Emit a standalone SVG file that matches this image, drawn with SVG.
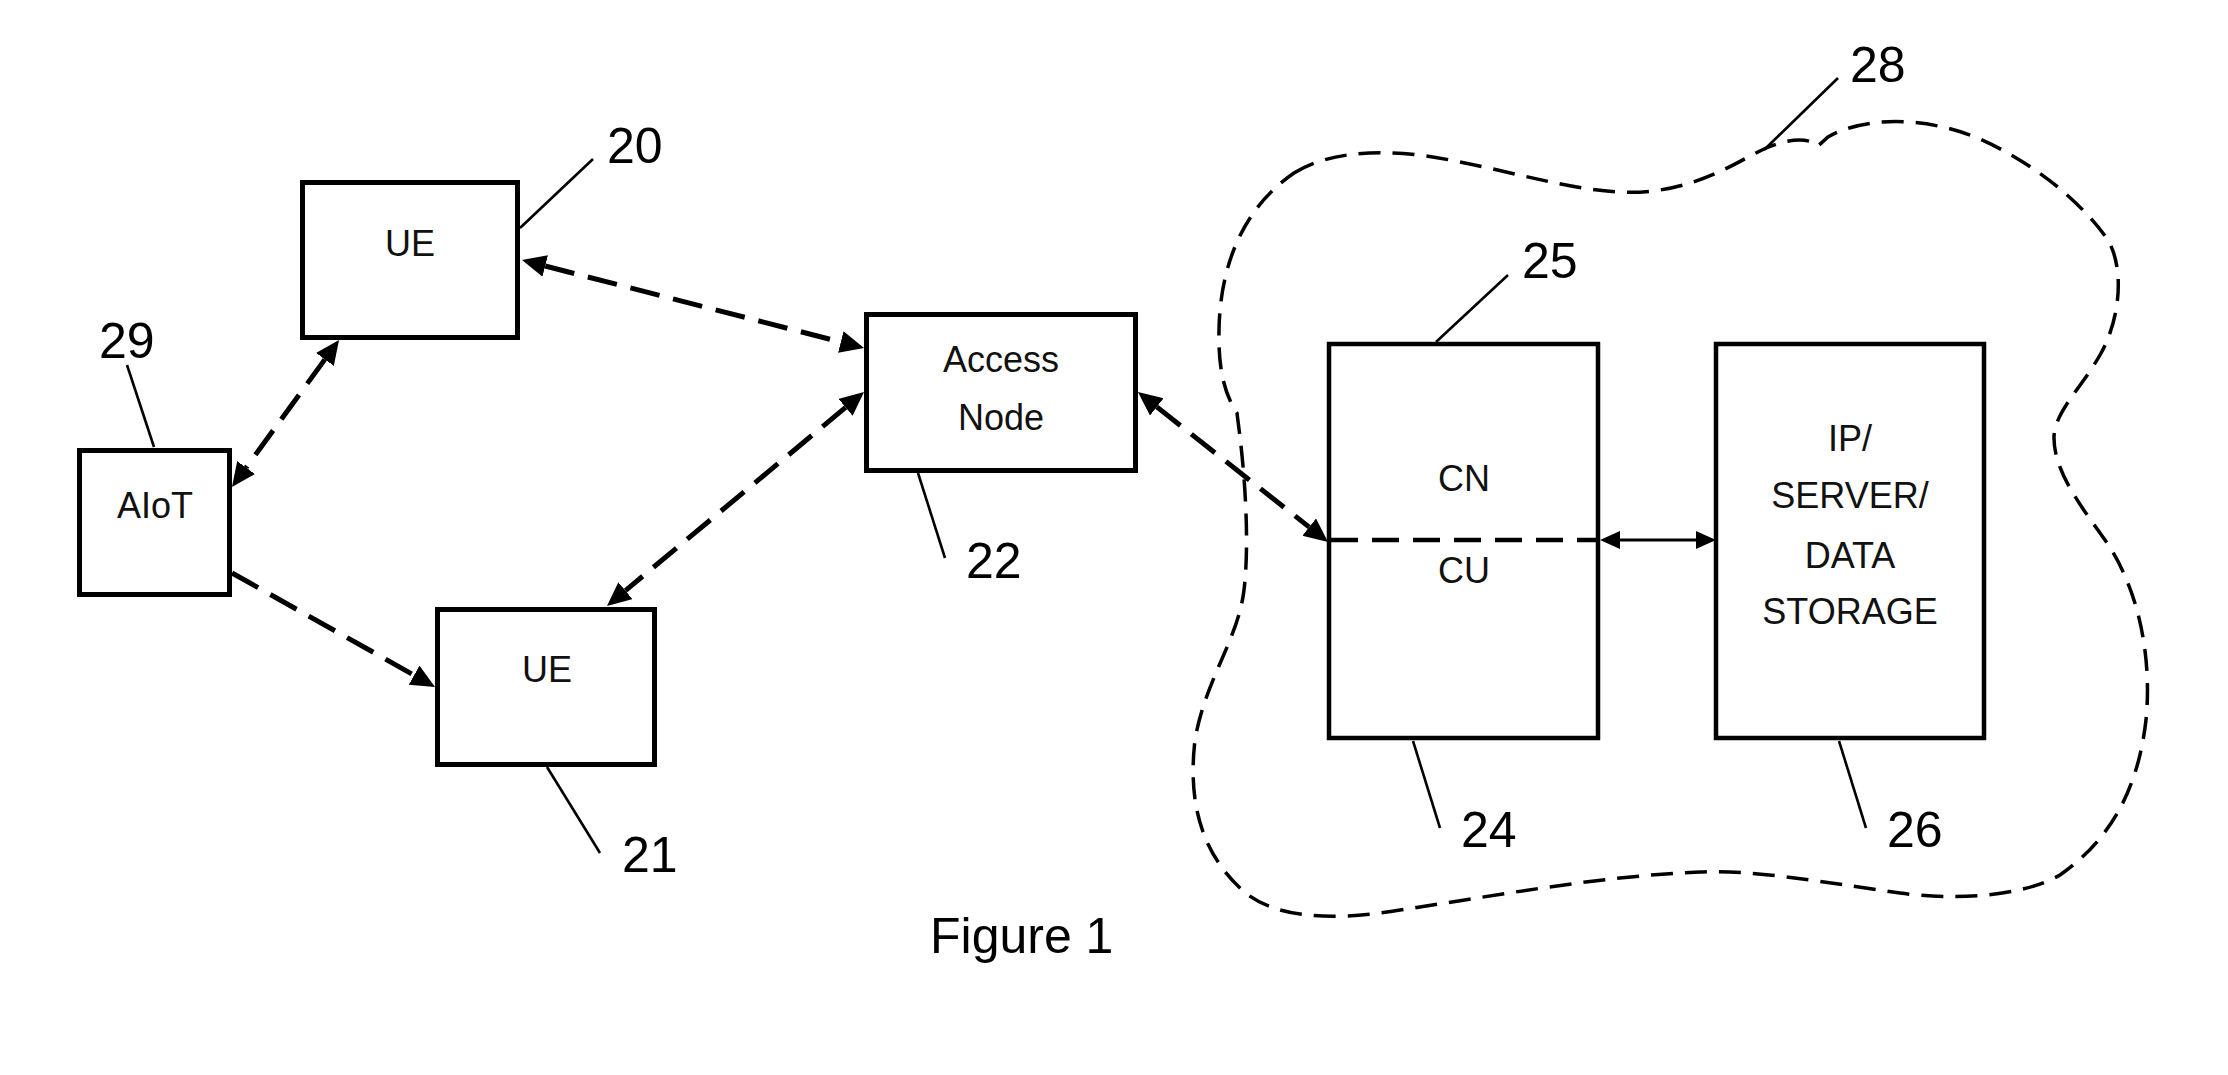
<svg xmlns="http://www.w3.org/2000/svg" width="2228" height="1075" viewBox="0 0 2228 1075">
<style>
.box{fill:#fff;stroke:#000;stroke-width:5}
.box2{fill:#fff;stroke:#000;stroke-width:4.5}
.lbl{font-family:"Liberation Sans",Arial,sans-serif;font-size:36px;fill:#111;text-anchor:middle}
.num{font-family:"Liberation Sans",Arial,sans-serif;font-size:50px;fill:#000}
.lead{stroke:#000;stroke-width:2.6;fill:none}
.conn{stroke:#000;stroke-width:5;fill:none;stroke-dasharray:30 14}
.cloud{stroke:#000;stroke-width:3.5;fill:none;stroke-dasharray:22 12}
</style>
<defs>
<marker id="ah" markerUnits="userSpaceOnUse" markerWidth="26" markerHeight="24" refX="0" refY="11" orient="auto-start-reverse">
<path d="M0,0 L24,11 L0,22 z" fill="#000"/>
</marker>
<marker id="ahs" markerUnits="userSpaceOnUse" markerWidth="22" markerHeight="20" refX="0" refY="9" orient="auto-start-reverse">
<path d="M0,0 L20,9 L0,18 z" fill="#000"/>
</marker>
</defs>
<rect width="2228" height="1075" fill="#fff"/>

<g id="cloud28">
<path class="cloud" d="M1294,173 C1330,150 1390,148 1450,160 C1530,175 1600,200 1660,190 C1710,182 1740,160 1764,149 C1785,140 1800,138 1812,142 L1818,146 L1828,137 C1860,118 1920,115 1975,137 C2030,160 2080,200 2108,240 C2125,270 2120,320 2100,355 C2080,390 2056,410 2054,436 C2053,470 2080,505 2105,540 C2140,590 2152,660 2146,720 C2138,790 2110,840 2060,875 C2020,898 1950,900 1900,893 C1820,882 1760,870 1700,872 C1600,876 1500,895 1400,910 C1330,922 1270,918 1240,888 C1200,850 1188,800 1195,740 C1205,680 1238,640 1244,590 C1250,540 1244,470 1240,437 L1237,413 C1225,395 1218,370 1219,330 C1220,270 1240,210 1294,173 Z"/>
<line class="lead" x1="1764" y1="150" x2="1838" y2="78"/>
<text class="num" x="1850" y="82">28</text>
</g>

<g id="ue20">
<rect class="box" x="302.5" y="182.5" width="215" height="155"/>
<text class="lbl" x="410" y="256">UE</text>
<line class="lead" x1="520" y1="228" x2="593" y2="159"/>
<text class="num" x="607" y="163">20</text>
</g>

<g id="aiot29">
<rect class="box" x="79.5" y="450.5" width="150" height="144"/>
<text class="lbl" x="155" y="518">AIoT</text>
<line class="lead" x1="154" y1="447" x2="127" y2="365"/>
<text class="num" x="99" y="358">29</text>
</g>

<g id="ue21">
<rect class="box" x="437.5" y="609.5" width="217" height="155"/>
<text class="lbl" x="547" y="682">UE</text>
<line class="lead" x1="547" y1="767" x2="600" y2="853"/>
<text class="num" x="622" y="872">21</text>
</g>

<g id="access22">
<rect class="box" x="866.5" y="314.5" width="269" height="156"/>
<text class="lbl" x="1001" y="372">Access</text>
<text class="lbl" x="1001" y="430">Node</text>
<line class="lead" x1="918" y1="473" x2="945" y2="558"/>
<text class="num" x="966" y="578">22</text>
</g>

<g id="cn24">
<rect class="box2" x="1329" y="344" width="269" height="394"/>
<text class="lbl" x="1464" y="491">CN</text>
<text class="lbl" x="1464" y="583">CU</text>
<line x1="1331" y1="540" x2="1598" y2="540" stroke="#000" stroke-width="4.5" stroke-dasharray="27 14"/>
<line class="lead" x1="1436" y1="342" x2="1508" y2="275"/>
<text class="num" x="1522" y="278">25</text>
<line class="lead" x1="1413" y1="741" x2="1440" y2="828"/>
<text class="num" x="1461" y="847">24</text>
</g>

<g id="server26">
<rect class="box2" x="1716" y="344" width="268" height="394"/>
<text class="lbl" x="1850" y="451">IP/</text>
<text class="lbl" x="1850" y="508">SERVER/</text>
<text class="lbl" x="1850" y="568">DATA</text>
<text class="lbl" x="1850" y="624">STORAGE</text>
<line class="lead" x1="1839" y1="741" x2="1866" y2="828"/>
<text class="num" x="1887" y="847">26</text>
</g>

<g id="connectors">
<line class="conn" x1="545.2" y1="266" x2="840.8" y2="342" marker-start="url(#ah)" marker-end="url(#ah)"/>
<line class="conn" x1="324.9" y1="359.4" x2="246.1" y2="467.6" marker-start="url(#ah)" marker-end="url(#ah)"/>
<line class="conn" x1="845.6" y1="407.4" x2="625.4" y2="590.6" marker-start="url(#ah)" marker-end="url(#ah)"/>
<line class="conn" x1="232" y1="573" x2="414.1" y2="675.2" marker-end="url(#ah)"/>
<line class="conn" x1="1156.8" y1="406.9" x2="1309.2" y2="527.1" marker-start="url(#ah)" marker-end="url(#ah)"/>
<line x1="1620" y1="540" x2="1696" y2="540" stroke="#000" stroke-width="3" marker-start="url(#ahs)" marker-end="url(#ahs)"/>
</g>

<text class="num" x="930" y="953">Figure 1</text>
</svg>
